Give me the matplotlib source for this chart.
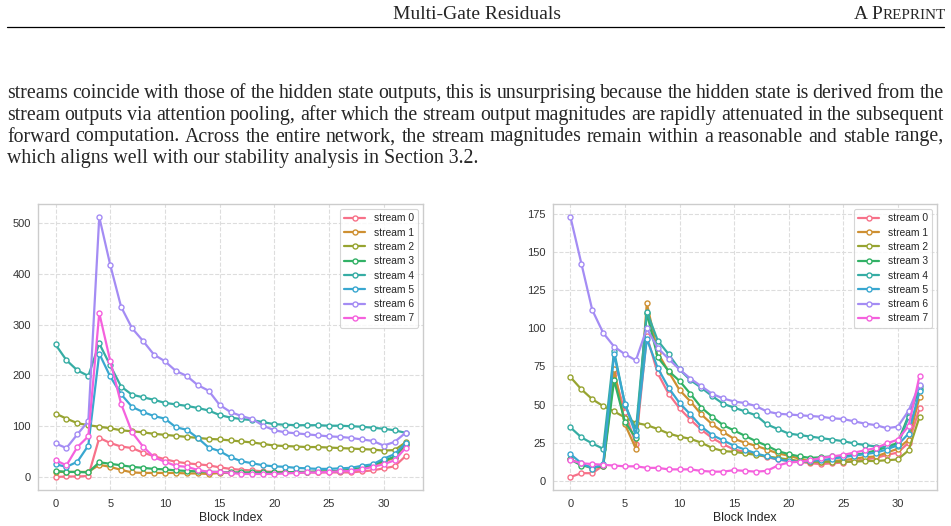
import numpy as np
import matplotlib
matplotlib.use("Agg")
import matplotlib.pyplot as plt
import seaborn as sns

# ---- data ----------------------------------------------------------------
blocks = list(range(33))
stream_names = ["stream 0", "stream 1", "stream 2", "stream 3",
                "stream 4", "stream 5", "stream 6", "stream 7"]

# left panel
left_s0 = [0, 1, 1, 2, 77, 67, 60, 57, 48, 41, 35, 30, 27, 25, 23, 19, 16, 14, 13, 11, 10, 10, 9, 9, 9, 9, 9, 9, 11, 13, 17, 21, 41]
left_s1 = [10, 10, 10, 10, 24, 20, 14, 9, 8, 8, 8, 8, 7, 7, 6, 8, 8, 8, 8, 8, 8, 9, 9, 10, 10, 11, 12, 14, 17, 22, 30, 38, 63]
left_s2 = [125, 115, 106, 102, 99, 96, 92, 90, 88, 85, 83, 81, 79, 77, 75, 74, 72, 70, 68, 65, 62, 61, 60, 59, 59, 58, 57, 56, 55, 54, 52, 53, 68]
left_s3 = [12, 10, 10, 9, 29, 26, 23, 20, 18, 16, 15, 13, 12, 11, 10, 10, 9, 9, 9, 9, 9, 9, 10, 10, 11, 11, 12, 14, 18, 24, 32, 40, 65]
left_s4 = [261, 230, 210, 199, 263, 220, 178, 162, 157, 152, 146, 143, 140, 136, 131, 122, 117, 114, 112, 108, 104, 103, 102, 102, 102, 101, 101, 100, 99, 97, 95, 92, 87]
left_s5 = [25, 20, 30, 62, 243, 198, 163, 138, 128, 120, 115, 98, 93, 77, 58, 51, 39, 31, 27, 23, 21, 20, 18, 17, 16, 16, 17, 18, 22, 25, 36, 45, 66]
left_s6 = [66, 57, 84, 110, 512, 418, 335, 293, 268, 241, 228, 209, 199, 181, 170, 142, 128, 120, 114, 101, 92, 88, 86, 84, 82, 80, 79, 77, 74, 71, 62, 69, 87]
left_s7 = [33, 23, 59, 80, 323, 229, 144, 88, 60, 39, 30, 22, 20, 14, 10, 10, 8, 6, 6, 6, 6, 7, 8, 9, 9, 10, 11, 12, 15, 20, 25, 33, 57]

# right panel
right_s0 = [2.5, 5, 5, 10, 70, 45, 24, 95, 70.5, 57, 47.5, 40, 33.5, 28, 24, 20.5, 19, 17.5, 15.5, 14, 13, 12.5, 11.5, 11, 11.5, 12, 13, 14, 15, 17, 18.5, 25, 47.5]
right_s1 = [14, 11, 8, 10, 73, 37, 21, 116.5, 84, 71.5, 59.5, 52, 43.5, 37, 32, 27.5, 25, 23, 20.5, 18, 16.5, 14.5, 13, 12.5, 13, 13.5, 14.5, 15.5, 16, 18.5, 21, 27, 55]
right_s2 = [68, 60, 53.5, 49, 45.5, 41.5, 38, 36.5, 34, 31, 29, 27.5, 25, 21.5, 19.5, 19, 18, 17, 16, 15, 14, 13, 12.5, 12.5, 12.5, 12.5, 12.5, 13, 13, 13.5, 14, 20, 42]
right_s3 = [14, 10, 9, 9.5, 66, 38.5, 28, 110, 81, 72, 65.5, 57, 48, 42, 36.5, 33, 29.5, 26, 23, 19.5, 17.5, 16, 15, 15.5, 16, 16, 17, 18, 20, 22, 25, 43, 60]
right_s4 = [35, 28.5, 24.5, 21, 85, 50, 33, 111, 92, 83, 73, 66, 61, 55.5, 50.5, 48, 45.5, 43, 37, 34, 31, 30, 29, 28, 27, 26, 24.5, 23.5, 22.5, 22, 23, 42, 62]
right_s5 = [17.5, 11.5, 8, 11, 83, 50.5, 30, 93, 74, 61, 51, 43.5, 35.5, 30, 26.5, 23, 20.5, 18, 16, 14, 13, 12.5, 13, 13.5, 14.5, 15.5, 16.5, 17.5, 18.5, 20.5, 23.5, 31, 59]
right_s6 = [173, 142.5, 112, 97, 88, 83, 79, 100, 87, 80, 73, 67, 62, 57, 54, 52, 51, 49, 45.5, 44, 43.5, 43, 42.5, 42, 41, 40.5, 39, 37.5, 36.5, 34.5, 35.5, 46, 63]
right_s7 = [13.5, 11.5, 11, 10.5, 10, 9.5, 9.5, 8.5, 8.5, 7.5, 7.5, 7.5, 6.5, 6, 6, 7, 6.5, 6, 6.5, 10, 12, 12.5, 13.5, 15, 16, 17, 18.5, 20, 21.5, 24.5, 27, 36, 69]

left_series = [left_s0, left_s1, left_s2, left_s3, left_s4, left_s5, left_s6, left_s7]
right_series = [right_s0, right_s1, right_s2, right_s3, right_s4, right_s5, right_s6, right_s7]

header_title = "Multi-Gate Residuals"
para_lines = [
    "streams coincide with those of the hidden state outputs, this is unsurprising because the hidden state is derived from the",
    "stream outputs via attention pooling, after which the stream output magnitudes are rapidly attenuated in the subsequent",
    "forward computation.  Across the entire network, the stream magnitudes remain within a reasonable and stable range,",
    "which aligns well with our stability analysis in Section 3.2.",
]

# ---- style ---------------------------------------------------------------
sns.set_theme(style="whitegrid")
plt.rcParams['font.family'] = ['Liberation Sans', 'DejaVu Sans']
colors = sns.color_palette("husl", 8)

W, H = 951, 526
fig = plt.figure(figsize=(W / 100, H / 100), dpi=100)
renderer = fig.canvas.get_renderer()
serif = ['Liberation Serif', 'DejaVu Serif']


def fx(px):
    return px / W


def fy(py):
    return 1 - py / H


def width_of(t):
    return t.get_window_extent(renderer).width


# ---- page header ---------------------------------------------------------
fs_head = 14.0
fig.text(fx(477), fy(19), header_title, family=serif, fontsize=fs_head,
         ha='center', va='baseline')
t_rest = fig.text(fx(946), fy(19), "REPRINT", family=serif, fontsize=fs_head * 0.78,
                  ha='right', va='baseline')
w_rest = width_of(t_rest)
fig.text(fx(946 - w_rest), fy(19), "A P", family=serif, fontsize=fs_head,
         ha='right', va='baseline')
fig.add_artist(plt.Line2D([fx(7), fx(944)], [fy(27), fy(27)], color='black', lw=0.9,
                          transform=fig.transFigure))

# ---- justified paragraph -------------------------------------------------
fs_body = 14.3
x_left, x_right = 7, 944
baselines = [98, 120, 141.5, 163]
for i, line in enumerate(para_lines):
    y = fy(baselines[i])
    if i == len(para_lines) - 1:
        fig.text(fx(x_left), y, line, family=serif, fontsize=fs_body, va='baseline')
        continue
    words = line.split()
    texts = [fig.text(0, y, w, family=serif, fontsize=fs_body, va='baseline') for w in words]
    widths = [width_of(t) for t in texts]
    gap = (x_right - x_left - sum(widths)) / (len(words) - 1)
    x = x_left
    for t, w in zip(texts, widths):
        t.set_x(fx(x))
        x += w + gap

# ---- charts --------------------------------------------------------------
ax_l = fig.add_axes([fx(38), fy(490), fx(423) - fx(38), fy(204) - fy(490)])
ax_r = fig.add_axes([fx(553), fy(490), fx(937) - fx(553), fy(204) - fy(490)])

for ax, series, yticks in [(ax_l, left_series, range(0, 501, 100)),
                           (ax_r, right_series, range(0, 176, 25))]:
    for name, vals, c in zip(stream_names, series, colors):
        ax.plot(blocks, vals, color=c, lw=1.6, marker='o', markersize=3.6,
                markerfacecolor='white', markeredgecolor=c, markeredgewidth=1.0,
                label=name)
    ax.set_xticks(range(0, 31, 5))
    ax.set_yticks(list(yticks))
    ax.grid(True, linestyle='--', color='#dddddd', lw=0.8)
    for sp in ax.spines.values():
        sp.set_color('#cccccc')
        sp.set_linewidth(1.0)
    ax.tick_params(labelsize=8, colors='#333333', length=0, pad=5)
    ax.tick_params(axis='x', pad=6.5)
    ax.set_xlabel("Block Index", fontsize=8.8, color='#222222', labelpad=2)
    leg = ax.legend(loc='upper right', fontsize=7.4, frameon=True,
                    handlelength=2.1, labelspacing=0.42, borderpad=0.4)
    leg.get_frame().set_edgecolor('#cccccc')
    leg.get_frame().set_linewidth(0.8)

fig.savefig("out.png", dpi=100)
